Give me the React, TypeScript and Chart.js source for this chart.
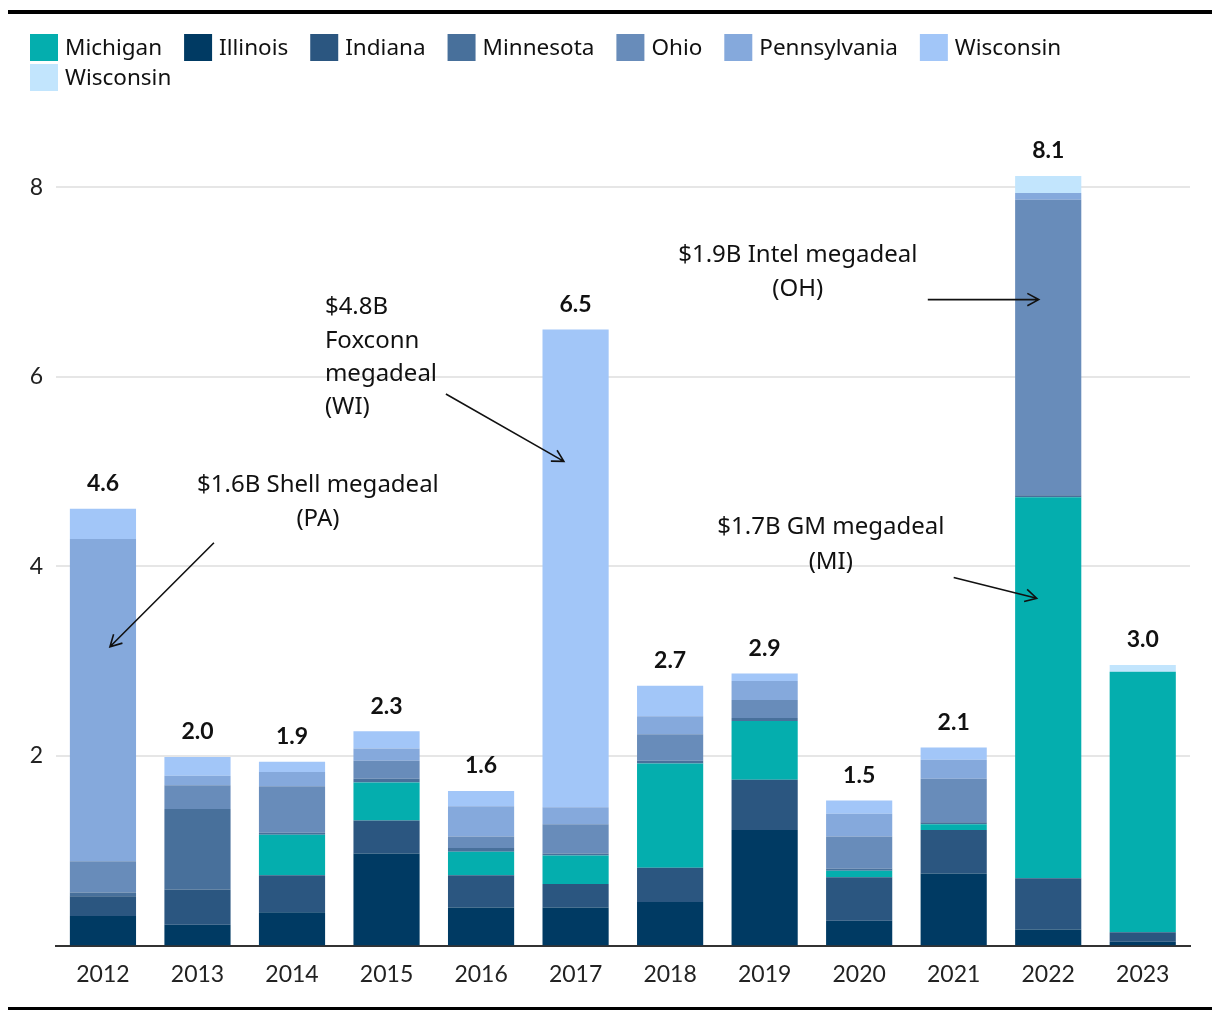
import React, { useEffect, useRef } from "react";
import { Chart, registerables } from "chart.js";

Chart.register(...registerables);

const categories = ["2012", "2013", "2014", "2015", "2016", "2017", "2018", "2019", "2020", "2021", "2022", "2023"];

const illinois = [0.31, 0.22, 0.35, 0.97, 0.4, 0.4, 0.46, 1.22, 0.26, 0.76, 0.17, 0.04];
const indiana = [0.21, 0.37, 0.39, 0.35, 0.34, 0.25, 0.36, 0.53, 0.46, 0.46, 0.54, 0.1];
const michigan = [0, 0, 0.43, 0.4, 0.25, 0.3, 1.1, 0.62, 0.07, 0.06, 4.02, 2.75];
const minnesota = [0.04, 0.85, 0.02, 0.04, 0.04, 0.02, 0.03, 0.03, 0.02, 0.02, 0.02, 0];
const ohio = [0.33, 0.25, 0.49, 0.19, 0.12, 0.31, 0.28, 0.19, 0.34, 0.46, 3.12, 0];
const pennsylvania = [3.4, 0.1, 0.15, 0.13, 0.32, 0.18, 0.19, 0.2, 0.24, 0.2, 0.07, 0];
const wisconsin = [0.32, 0.2, 0.11, 0.18, 0.16, 5.04, 0.32, 0.08, 0.14, 0.13, 0, 0];
const wisconsin2 = [0, 0, 0, 0, 0, 0, 0, 0, 0, 0, 0.18, 0.07];

const yTicks = [2, 4, 6, 8];

// stacking order (bottom to top)
const seriesNames = ["Illinois", "Indiana", "Michigan", "Minnesota", "Ohio", "Pennsylvania", "Wisconsin", "Wisconsin"];
const seriesValues = [illinois, indiana, michigan, minnesota, ohio, pennsylvania, wisconsin, wisconsin2];
const seriesColors = ["#003a63", "#2b5680", "#04aeae", "#48709b", "#688cba", "#85a9dc", "#a2c6f8", "#c2e5fd"];
// legend order (dataset indices)
const legendOrder = [2, 0, 1, 3, 4, 5, 6, 7];

// annotations, positioned in data units (x = category index, y = value)
const annotations = [
  { lines: ["$1.6B Shell megadeal", "(PA)"], x: 2.274, y: 4.863, align: "center", gap: 34, arrow: [1.174, 4.25, 0.074, 3.152] },
  { lines: ["$4.8B", "Foxconn", "megadeal", "(WI)"], x: 2.348, y: 6.732, align: "left", gap: 33.3, arrow: [3.628, 5.82, 4.876, 5.109] },
  { lines: ["$1.9B Intel megadeal", "(OH)"], x: 7.351, y: 7.281, align: "center", gap: 34, arrow: [8.726, 6.816, 9.9, 6.816] },
  { lines: ["$1.7B GM megadeal", "(MI)"], x: 7.7, y: 4.419, align: "center", gap: 35, arrow: [9.0, 3.884, 9.878, 3.664] },
];

const FONT = "Lato, 'Noto Sans', sans-serif";
const TEXT_FONT = "'Noto Sans', Lato, sans-serif";

const overlayPlugin = {
  id: "overlay",
  afterDatasetsDraw(chart: any) {
    const { ctx } = chart;
    const xs = chart.scales.x;
    const ys = chart.scales.y;
    const x0 = xs.getPixelForValue(0);
    const x1 = xs.getPixelForValue(1);
    const px = (v: number) => x0 + (x1 - x0) * v;
    const py = (v: number) => ys.getPixelForValue(v);

    ctx.save();
    // totals
    ctx.font = `bold 23px ${FONT}`;
    ctx.fillStyle = "#111";
    ctx.textAlign = "center";
    ctx.textBaseline = "middle";
    categories.forEach((_, i) => {
      const total = seriesValues.reduce((s, arr) => s + arr[i], 0);
      const t = Math.round(total * 100) / 100;
      ctx.fillText(t.toFixed(1), xs.getPixelForValue(i), py(total) - 25);
    });

    // annotations
    ctx.font = `24px ${TEXT_FONT}`;
    annotations.forEach((a) => {
      ctx.textAlign = a.align as CanvasTextAlign;
      const ax = px(a.x);
      const ay = py(a.y);
      a.lines.forEach((l, k) => ctx.fillText(l, ax, ay + k * a.gap));
      const [sx, sy, ex, ey] = a.arrow;
      const X1 = px(sx), Y1 = py(sy), X2 = px(ex), Y2 = py(ey);
      ctx.strokeStyle = "#111";
      ctx.lineWidth = 1.6;
      ctx.beginPath();
      ctx.moveTo(X1, Y1);
      ctx.lineTo(X2, Y2);
      const ang = Math.atan2(Y2 - Y1, X2 - X1);
      const L = 13;
      const spread = 0.5;
      ctx.moveTo(X2 - L * Math.cos(ang - spread), Y2 - L * Math.sin(ang - spread));
      ctx.lineTo(X2, Y2);
      ctx.lineTo(X2 - L * Math.cos(ang + spread), Y2 - L * Math.sin(ang + spread));
      ctx.stroke();
    });
    ctx.restore();
  },
  afterDraw(chart: any) {
    const { ctx } = chart;
    ctx.save();
    ctx.font = `22.5px ${TEXT_FONT}`;
    ctx.textAlign = "left";
    ctx.textBaseline = "middle";
    const startX = 22;
    const maxX = 1195;
    let cx = startX;
    let cy = 20;
    const boxW = 28;
    const boxH = 27;
    const rowH = 30;
    legendOrder.forEach((di) => {
      const label = seriesNames[di];
      const tw = ctx.measureText(label).width;
      const w = boxW + 7 + tw;
      if (cx + w > maxX) {
        cx = startX;
        cy += rowH;
      }
      ctx.fillStyle = seriesColors[di];
      ctx.fillRect(cx, cy, boxW, boxH);
      ctx.fillStyle = "#111";
      ctx.fillText(label, cx + boxW + 7, cy + boxH / 2 + 1);
      cx += w + 22;
    });
    ctx.restore();
  },
};

export default function App() {
  const ref = useRef<HTMLCanvasElement | null>(null);

  useEffect(() => {
    if (!ref.current) return;
    const chart = new Chart(ref.current, {
      type: "bar",
      data: {
        labels: categories,
        datasets: seriesValues.map((vals, i) => ({
          label: seriesNames[i],
          data: vals,
          backgroundColor: seriesColors[i],
          borderWidth: 0,
          barPercentage: 0.7,
          categoryPercentage: 1,
        })),
      },
      options: {
        animation: false,
        responsive: false,
        devicePixelRatio: 1,
        layout: { padding: { top: 126, right: 22, left: 0, bottom: 0 } },
        plugins: {
          legend: { display: false },
          tooltip: { enabled: false },
        },
        scales: {
          x: {
            stacked: true,
            grid: { display: false, drawTicks: false },
            border: { display: true, color: "#333", width: 2 },
            ticks: { color: "#222", font: { family: FONT, size: 23 }, padding: 15 },
            afterFit: (s: any) => {
              s.height = 58.5;
            },
          },
          y: {
            stacked: true,
            min: 0,
            max: 8.5,
            grid: { color: "#e6e6e6", lineWidth: 2, drawTicks: false },
            border: { display: false },
            ticks: { color: "#222", font: { family: FONT, size: 23 }, padding: 12.7 },
            afterBuildTicks: (s: any) => {
              s.ticks = yTicks.map((v) => ({ value: v }));
            },
            afterFit: (s: any) => {
              s.width = 47.7;
            },
          },
        },
      },
      plugins: [overlayPlugin],
    });
    return () => chart.destroy();
  }, []);

  return (
    <div style={{ width: 1204, paddingTop: 2 }}>
      <div style={{ height: 4, background: "#000" }} />
      <canvas ref={ref} width={1204} height={990} style={{ display: "block", width: 1204, height: 990 }} />
      <div style={{ height: 3, background: "#000", marginTop: 3 }} />
    </div>
  );
}
